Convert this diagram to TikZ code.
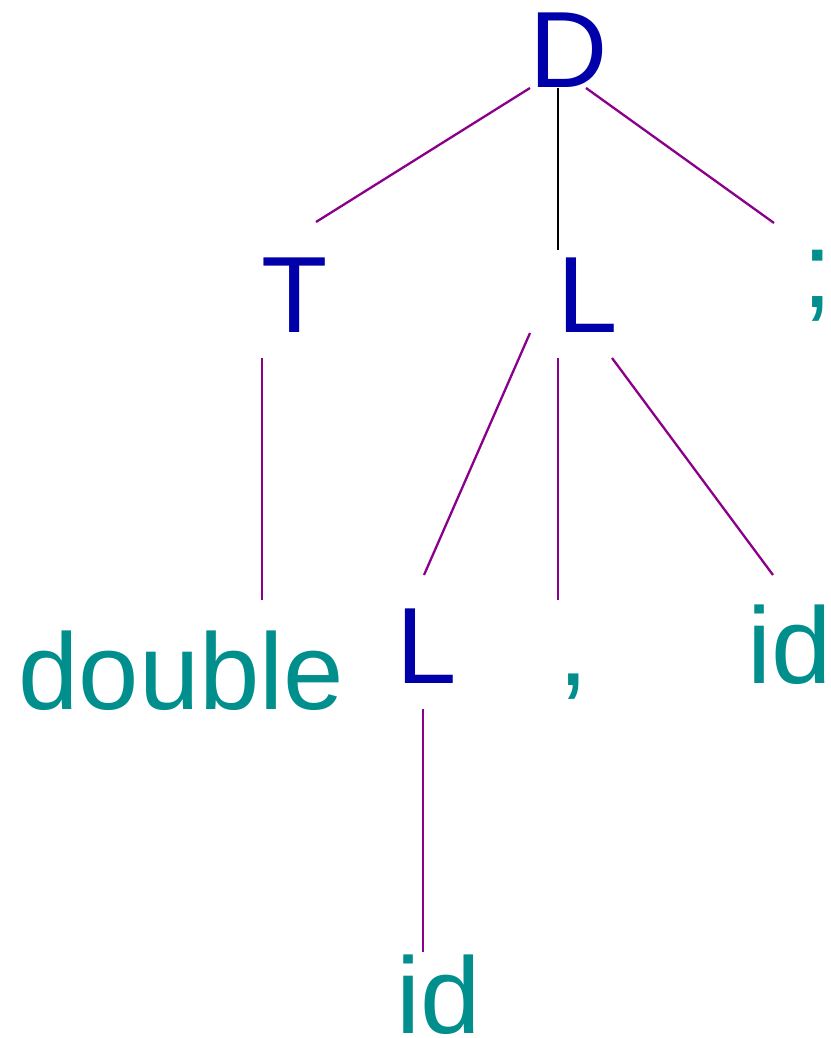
\documentclass[tikz,border=0pt]{standalone}
\usepackage{fontspec}
\setmainfont{Liberation Sans}
\definecolor{ntblue}{RGB}{0,0,170}
\definecolor{tteal}{RGB}{0,143,140}
\definecolor{epurple}{RGB}{139,0,139}
\begin{document}
\begin{tikzpicture}[x=1pt,y=-1pt,
  lab/.style={anchor=base west,inner sep=0pt,outer sep=0pt,font=\fontsize{108.5}{120}\selectfont},
  nt/.style={lab,text=ntblue},
  tm/.style={lab,text=tteal},
  edge/.style={draw=epurple,line width=2.3pt},
  blackedge/.style={draw=black,line width=2.3pt}]
\useasboundingbox (0,0) rectangle (830,1038);
% nodes
\node[nt] (D) at (529.5,88) {D};
\node[nt] (T) at (261,332) {T};
\node[nt] (L1) at (557,332) {L};
\node[tm] (semi) at (802,307) {;};
\node[tm] (double) at (18.5,709) {double};
\node[nt] (L2) at (396,683) {L};
\node[tm] (comma) at (558,685) {,};
\node[tm] (id1) at (747,683) {id};
\node[tm] (id2) at (396,1033) {id};
% connector end points
\coordinate (D-T) at (530,88);   \coordinate (T-D) at (316,222);
\coordinate (D-L1) at (558,88);  \coordinate (L1-D) at (558,250);
\coordinate (D-semi) at (586,88); \coordinate (semi-D) at (774,223);
\coordinate (T-double) at (262,358); \coordinate (double-T) at (262,600);
\coordinate (L1-L2) at (530,333); \coordinate (L2-L1) at (424,575);
\coordinate (L1-comma) at (558,358); \coordinate (comma-L1) at (558,600);
\coordinate (L1-id1) at (612,358); \coordinate (id1-L1) at (773,575);
\coordinate (L2-id2) at (423,709); \coordinate (id2-L2) at (423,952);
% connectors
\draw[edge] (D-T) -- (T-D);
\draw[blackedge] (D-L1) -- (L1-D);
\draw[edge] (D-semi) -- (semi-D);
\draw[edge] (T-double) -- (double-T);
\draw[edge] (L1-L2) -- (L2-L1);
\draw[edge] (L1-comma) -- (comma-L1);
\draw[edge] (L1-id1) -- (id1-L1);
\draw[edge] (L2-id2) -- (id2-L2);
\end{tikzpicture}
\end{document}
